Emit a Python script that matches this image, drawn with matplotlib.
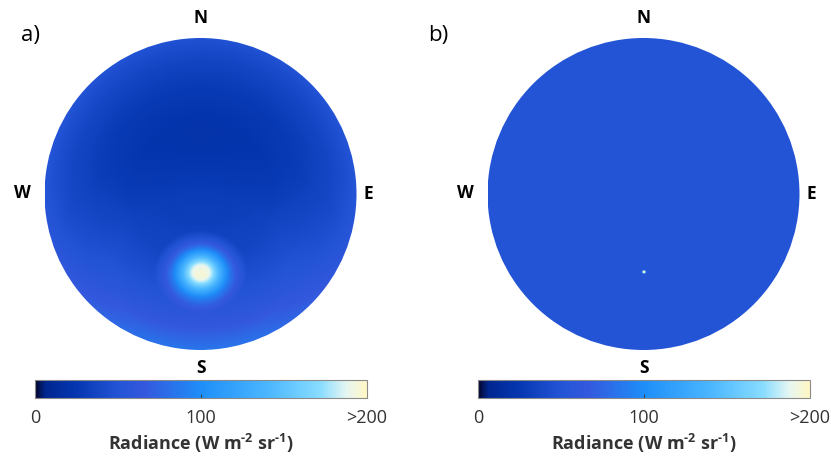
import numpy as np
import matplotlib
matplotlib.use("Agg")
import matplotlib.pyplot as plt
from matplotlib.colors import LinearSegmentedColormap, Normalize
from matplotlib.patches import Circle
import matplotlib.colorbar as mcolorbar

# ---------------- data ----------------
panel_labels = ["a)", "b)"]
compass = ["N", "E", "S", "W"]
cbar_ticks = [0, 100, 200]
cbar_ticklabels = ["0", "100", ">200"]
cbar_label = r"Radiance (W m$^{\text{-2}}$ sr$^{\text{-1}}$)"

sun_zenith_deg = 45.0
sun_azimuth_deg = 180.0

# panel a: background radiance vs zenith angle
zen_nodes = [0, 20, 40, 60, 75, 85, 90]
zen_radiance = [18, 18, 20, 27, 35, 44, 50]
# panel a: forward-scattering factor vs angle from sun
fwd_angle = [0, 30, 45, 60, 75, 90, 135, 180]
fwd_factor = [2.0, 1.8, 1.7, 1.4, 1.15, 1.05, 0.97, 0.97]
# panel a: circumsolar radiance vs angle from sun
aureole_angle = [0, 4, 6, 9, 12, 15, 19, 24, 180]
aureole_radiance = [152, 148, 132, 100, 70, 42, 18, 0, 0]

# panel b: uniform diffuse sky + tiny solar disk
uniform_radiance = 50
disk_angle = [0, 0.6, 1.2, 180]
disk_radiance = [150, 150, 0, 0]

# ---------------- colormap ----------------
cm_pos = [0.0, 0.03, 0.12, 0.25, 0.33, 0.50, 0.70, 0.86, 0.94, 1.0]
cm_col = ["#05062e", "#00268f", "#0536b0", "#2354d6", "#3458dd", "#1e8ef8",
          "#4ab6ff", "#88dcff", "#e6f6f2", "#fff7c4"]
cmap = LinearSegmentedColormap.from_list("rad", list(zip(cm_pos, cm_col)))
norm = Normalize(vmin=0, vmax=200)

W, H = 831, 465
fig = plt.figure(figsize=(W / 100, H / 100), dpi=100)
plt.rcParams['font.family'] = ['Open Sans', 'DejaVu Sans']
plt.rcParams['mathtext.fontset'] = 'custom'
plt.rcParams['mathtext.rm'] = 'Open Sans:bold'
plt.rcParams['mathtext.bf'] = 'Open Sans:bold'


def fx(px):
    return px / W


def fy(py):
    return 1 - py / H


# sky grid
n = 701
g = np.linspace(-1, 1, n)
X, Y = np.meshgrid(g, g)
R = np.sqrt(X ** 2 + Y ** 2)
Z = np.radians(np.clip(R, 0, 1) * 90)
AZ = np.arctan2(X, Y)
zs = np.radians(sun_zenith_deg)
azs = np.radians(sun_azimuth_deg)
cos_t = np.cos(Z) * np.cos(zs) + np.sin(Z) * np.sin(zs) * np.cos(AZ - azs)
THETA = np.degrees(np.arccos(np.clip(cos_t, -1, 1)))
ZD = np.degrees(Z)

field_a = (np.interp(ZD, zen_nodes, zen_radiance) * np.interp(THETA, fwd_angle, fwd_factor)
           + np.interp(THETA, aureole_angle, aureole_radiance))
field_b = uniform_radiance + np.interp(THETA, disk_angle, disk_radiance)

panels = [
    dict(field=field_a, cx=200.5, cy=194, r=156, lab=(30, 36), cb=(35, 367)),
    dict(field=field_b, cx=643.5, cy=194, r=156, lab=(438, 36), cb=(478, 810)),
]

for i, p in enumerate(panels):
    cx, cy, r = p["cx"], p["cy"], p["r"]
    ax = fig.add_axes([fx(cx - r), fy(cy + r), fx(2 * r), 2 * r / H])
    ax.set_xlim(-1, 1)
    ax.set_ylim(-1, 1)
    ax.axis("off")
    circ = Circle((0, 0), 1, transform=ax.transData, facecolor="none", edgecolor="none")
    ax.add_patch(circ)
    im = ax.imshow(p["field"], cmap=cmap, norm=norm, origin="lower",
                   extent=[-1, 1, -1, 1], interpolation="bilinear")
    im.set_clip_path(circ)

    # compass labels
    kw = dict(ha="center", va="center", fontsize=12.5, fontweight="bold")
    fig.text(fx(cx), fy(18), compass[0], **kw)
    fig.text(fx(cx + 168), fy(194), compass[1], **kw)
    fig.text(fx(cx + 1), fy(368), compass[2], **kw)
    fig.text(fx(cx - 178), fy(193), compass[3], **kw)
    fig.text(fx(p["lab"][0]), fy(p["lab"][1]), panel_labels[i], ha="center", va="center",
             fontsize=16)

    # colorbar
    x0, x1 = p["cb"]
    cax = fig.add_axes([fx(x0), fy(398), fx(x1 - x0), 18 / H])
    cb = mcolorbar.ColorbarBase(cax, cmap=cmap, norm=norm, orientation="horizontal",
                                ticks=cbar_ticks)
    cb.outline.set_edgecolor("#8a8a8a")
    cb.outline.set_linewidth(0.8)
    cax.tick_params(axis="x", direction="in", length=3, width=0.6, color="#333333",
                    labelsize=13, pad=8, labelcolor="#333333")
    cb.set_ticklabels(cbar_ticklabels)
    fig.text(fx((x0 + x1) / 2), fy(443), cbar_label, ha="center", va="center",
             fontsize=13, fontweight="bold", color="#333333")

fig.savefig("out.png", dpi=100)
